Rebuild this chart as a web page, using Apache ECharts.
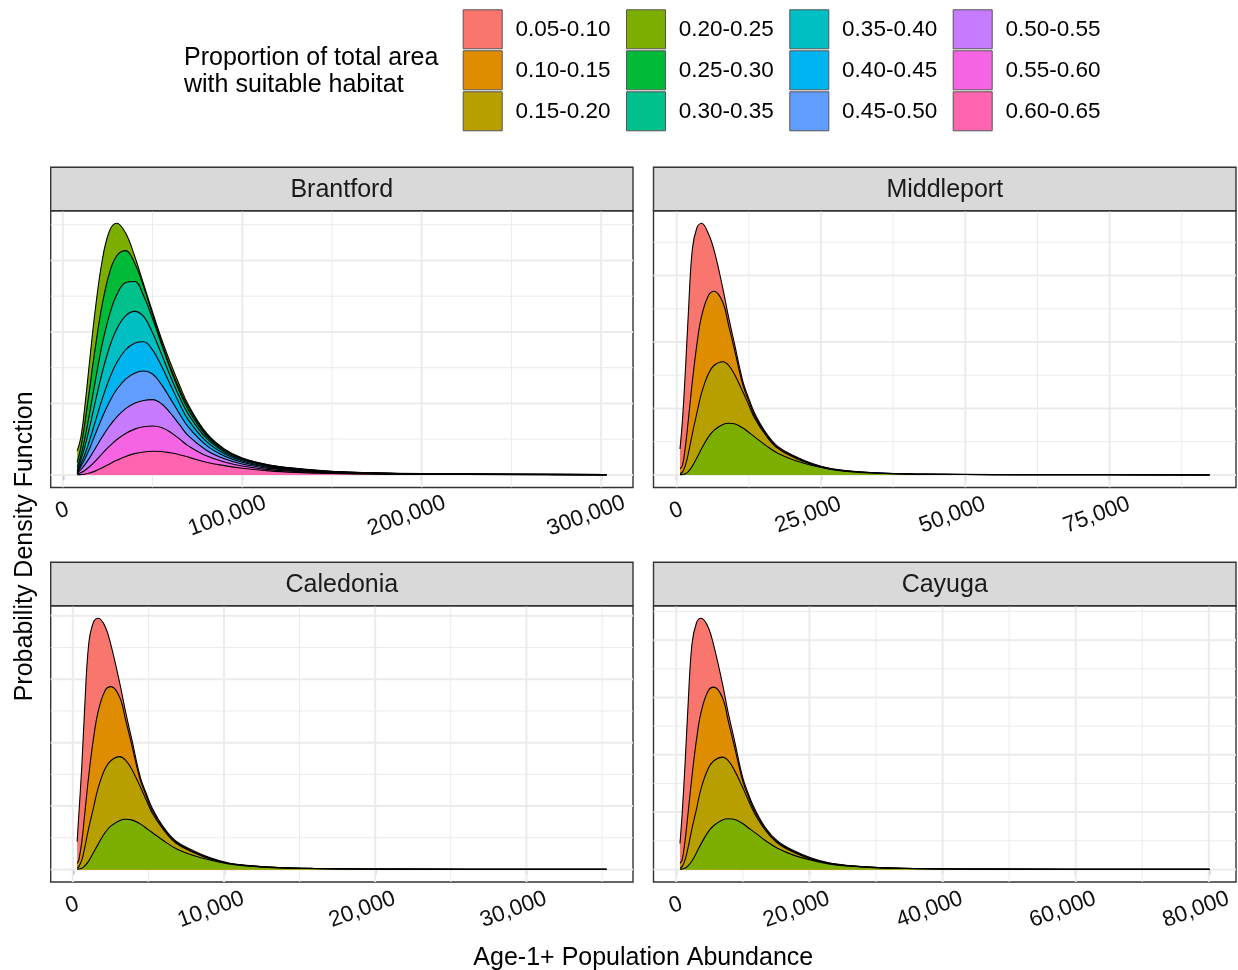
<!DOCTYPE html>
<html>
<head>
<meta charset="utf-8">
<title>Age-1+ population abundance by proportion of suitable habitat</title>
<script src="https://cdn.jsdelivr.net/npm/echarts@6.0.0/dist/echarts.min.js"></script>
<style>
  html, body { margin: 0; padding: 0; background: #ffffff; }
  #chart { width: 1238px; height: 970px; }
</style>
</head>
<body>
<div id="chart"></div>
<script>
// ---- Habitat classes and their fill colours ----
const groupLabels = ['0.05-0.10', '0.10-0.15', '0.15-0.20', '0.20-0.25', '0.25-0.30', '0.30-0.35',
                     '0.35-0.40', '0.40-0.45', '0.45-0.50', '0.50-0.55', '0.55-0.60', '0.60-0.65'];
const groupColors = ['#F8766D', '#DE8C00', '#B79F00', '#7CAE00', '#00BA38', '#00C08B',
                     '#00BFC4', '#00B4F0', '#619CFF', '#C77CFF', '#F564E3', '#FF64B0'];

// ---- Brantford: stacked density (upper edge of each class band), relative units ----
const brantfordX = [8000, 10000, 12000, 15000, 18000, 22000, 26000, 30000, 35000, 40000, 45000, 50000, 55000,
                    60000, 65000, 70000, 80000, 90000, 100000, 115000, 130000, 150000, 175000, 200000, 250000, 303000];
const brantford_20_25 = [24, 37, 64, 115, 164, 215, 244, 251.7, 242, 219, 191, 163, 136, 112, 90, 70, 42, 26, 17, 10, 6.5, 3.5, 2, 1.3, 0.7, 0.3];
const brantford_25_30 = [12.5, 27, 48.5, 87, 126, 171, 202, 219, 224.3, 212, 188.5, 160.6, 132.7, 107.5, 86, 67.9, 40.8, 25.3, 16.6, 9.76, 6.3, 3.4, 1.95, 1.27, 0.68, 0.29];
const brantford_30_35 = [7.5, 18.8, 34, 62.4, 93, 131, 160, 180, 192.4, 193.5, 179.3, 156.4, 130.6, 105.6, 83.4, 64.75, 39.1, 24.3, 16, 9.4, 6.1, 3.3, 1.9, 1.22, 0.66, 0.28];
const brantford_35_40 = [4, 14.7, 26.4, 48.2, 72.4, 102.7, 127.7, 145.8, 159.1, 163.6, 158.5, 142.2, 120.8, 98.5, 78.1, 60.6, 36.7, 23, 15.1, 8.9, 5.8, 3.1, 1.8, 1.16, 0.63, 0.26];
const brantford_40_45 = [2.5, 10.6, 18.9, 34.9, 52.8, 76.2, 96.4, 112.2, 125.2, 131.8, 133.2, 125, 108.9, 90, 71.3, 54.8, 33.5, 21.2, 14, 8.3, 5.3, 2.9, 1.65, 1.07, 0.58, 0.24];
const brantford_45_50 = [1.5, 8.4, 14.8, 26.7, 40.2, 57.7, 73.1, 85.4, 95.9, 101.8, 103.9, 100.9, 90.3, 76.1, 61.3, 47.7, 29.5, 18.9, 12.6, 7.45, 4.8, 2.6, 1.5, 0.96, 0.53, 0.22];
const brantford_50_55 = [1, 5.4, 9.5, 17.3, 26.2, 38.1, 48.9, 57.9, 66.3, 71.7, 74.5, 75.3, 71.2, 61.8, 50.3, 39, 24.7, 16.1, 10.9, 6.5, 4.1, 2.3, 1.3, 0.83, 0.46, 0.18];
const brantford_55_60 = [0.6, 2.1, 4.1, 8.4, 13.6, 21.3, 28.7, 35.2, 41.5, 45.8, 48.1, 49, 47.5, 42.7, 36, 29.05, 19.1, 13, 9, 5.3, 3.4, 1.9, 1.05, 0.68, 0.39, 0.14];
const brantford_60_65 = [0.1, 0.3, 0.7, 1.9, 3.8, 7.1, 10.9, 14.6, 18.5, 21.3, 23, 23.7, 23.4, 22.1, 20.2, 17.8, 12.7, 9.3, 6.7, 4, 2.5, 1.4, 0.8, 0.5, 0.3, 0.1];

// ---- Middleport ----
const middleportX = [570, 1000, 1500, 2000, 2700, 3500, 4300, 5500, 6500, 8000, 9000, 10000, 11500, 12500,
                     13500, 15500, 17500, 20500, 23500, 26500, 29500, 35000, 41000, 50000, 60000, 75000, 92300];
const middleport_05_10 = [26, 55, 104, 160, 226, 248, 252.5, 242, 225, 187, 158, 132, 93, 76.5, 62, 42, 28.7, 18.8, 11.4, 6.6, 4.2, 2, 1, 0.5, 0.3, 0.15, 0.05];
const middleport_10_15 = [6, 9.5, 28, 54, 93, 131, 159, 180, 184.3, 173, 150, 126, 89.5, 74, 59.5, 40.8, 27.6, 17.9, 10.8, 6.3, 4, 1.9, 0.95, 0.45, 0.27, 0.13, 0.04];
const middleport_15_20 = [1.5, 2.8, 9.5, 21, 41, 62, 82, 101.5, 110, 113.5, 110, 101, 83, 70, 57, 39.3, 26.6, 17, 10.2, 6, 3.8, 1.8, 0.9, 0.42, 0.25, 0.12, 0.03];
const middleport_20_25 = [0.3, 0.5, 1.2, 3.4, 8.6, 17.2, 26.2, 38.2, 45, 50.7, 51.9, 51.3, 47, 42.6, 38.2, 29.4, 21.7, 14.4, 9.4, 5.7, 3.6, 1.6, 0.8, 0.38, 0.22, 0.1, 0.02];

// ---- Caledonia ----
const caledoniaX = [290, 400, 600, 780, 1050, 1360, 1680, 2140, 2530, 3110, 3500, 3890, 4470, 4860,
                    5250, 6030, 6810, 7980, 9140, 10300, 11500, 13600, 16000, 19500, 23400, 29200, 35300];
const caledonia_05_10 = [27.8, 55, 104, 160, 225, 247, 251.2, 243, 224, 186, 157, 131, 92, 76, 61.5, 41.7, 28.5, 18.6, 11.3, 6.5, 4.1, 2, 1, 0.5, 0.3, 0.15, 0.05];
const caledonia_10_15 = [6, 9.5, 28, 54, 93, 130, 158, 179, 182.8, 172, 149, 125, 89, 73.5, 59, 40.5, 27.4, 17.8, 10.7, 6.2, 4, 1.9, 0.95, 0.45, 0.27, 0.13, 0.04];
const caledonia_15_20 = [1.5, 2.8, 9.5, 21, 41, 61, 81.5, 101, 109, 112.8, 109, 100.5, 82.5, 69.5, 56.5, 39, 26.4, 16.9, 10.1, 6, 3.8, 1.8, 0.9, 0.42, 0.25, 0.12, 0.03];
const caledonia_20_25 = [0.3, 0.5, 1.2, 3.3, 8.3, 16.6, 25.3, 37, 43.5, 49, 50.2, 49.6, 45.5, 41.2, 37, 28.5, 21, 14, 9.2, 5.5, 3.5, 1.55, 0.78, 0.37, 0.21, 0.1, 0.02];

// ---- Cayuga ----
const cayugaX = [550, 870, 1300, 1730, 2340, 3030, 3720, 4760, 5630, 6930, 7790, 8660, 9960, 10800,
                 11700, 13400, 15200, 17700, 20300, 22900, 25500, 30300, 35500, 43300, 52000, 64900, 80100];
const cayuga_05_10 = [26, 55, 104, 160, 225, 247, 251.5, 243, 224, 186, 157, 131.5, 92.5, 76, 61.7, 41.8, 28.6, 18.7, 11.4, 6.6, 4.2, 2, 1, 0.5, 0.3, 0.15, 0.05];
const cayuga_10_15 = [6, 9.5, 28, 54, 92.5, 130, 157.5, 178.5, 182.5, 172, 149, 125, 89, 73.5, 59.2, 40.6, 27.5, 17.8, 10.8, 6.3, 4, 1.9, 0.95, 0.45, 0.27, 0.13, 0.04];
const cayuga_15_20 = [1.5, 2.8, 9.4, 20.8, 40.5, 60.5, 81, 100.5, 108.8, 112.5, 109, 100.2, 82.3, 69.5, 56.7, 39, 26.5, 16.9, 10.2, 6, 3.8, 1.8, 0.9, 0.42, 0.25, 0.12, 0.03];
const cayuga_20_25 = [0.3, 0.5, 1.2, 3.3, 8.4, 16.8, 25.6, 37.4, 44, 49.6, 50.8, 50.2, 46, 41.7, 37.4, 28.8, 21.2, 14.1, 9.3, 5.6, 3.5, 1.6, 0.8, 0.37, 0.22, 0.1, 0.02];

// ---- Axis breaks ----
const brantfordTicks = [0, 100000, 200000, 300000];
const brantfordMinor = [50000, 150000, 250000];
const middleportTicks = [0, 25000, 50000, 75000];
const middleportMinor = [12500, 37500, 62500, 87500];
const caledoniaTicks = [0, 10000, 20000, 30000];
const caledoniaMinor = [5000, 15000, 25000, 35000];
const cayugaTicks = [0, 20000, 40000, 60000, 80000];
const cayugaMinor = [10000, 30000, 50000, 70000];
// spacing of horizontal grid lines (minor step) in each panel's density units
const brantfordYStep = 35.75;
const middleportYStep = 33.35;
const caledoniaYStep = 31.7;
const cayugaYStep = 28.7;

const FONT = "'Liberation Sans', Arial, Helvetica, sans-serif";
const STRIP_H = 43.4;

// Panel layout: [left, top, width, height] of each plotting area
const panels = [
  { title: 'Brantford', x: brantfordX, ticks: brantfordTicks, minor: brantfordMinor, yStep: brantfordYStep,
    box: [50.7, 210.7, 582.3, 276.8],
    curves: [['0.20-0.25', brantford_20_25], ['0.25-0.30', brantford_25_30], ['0.30-0.35', brantford_30_35],
             ['0.35-0.40', brantford_35_40], ['0.40-0.45', brantford_40_45], ['0.45-0.50', brantford_45_50],
             ['0.50-0.55', brantford_50_55], ['0.55-0.60', brantford_55_60], ['0.60-0.65', brantford_60_65]] },
  { title: 'Middleport', x: middleportX, ticks: middleportTicks, minor: middleportMinor, yStep: middleportYStep,
    box: [653.5, 210.7, 582.5, 276.8],
    curves: [['0.05-0.10', middleport_05_10], ['0.10-0.15', middleport_10_15],
             ['0.15-0.20', middleport_15_20], ['0.20-0.25', middleport_20_25]] },
  { title: 'Caledonia', x: caledoniaX, ticks: caledoniaTicks, minor: caledoniaMinor, yStep: caledoniaYStep,
    box: [50.7, 605.7, 582.3, 276.3],
    curves: [['0.05-0.10', caledonia_05_10], ['0.10-0.15', caledonia_10_15],
             ['0.15-0.20', caledonia_15_20], ['0.20-0.25', caledonia_20_25]] },
  { title: 'Cayuga', x: cayugaX, ticks: cayugaTicks, minor: cayugaMinor, yStep: cayugaYStep,
    box: [653.5, 605.7, 582.5, 276.3],
    curves: [['0.05-0.10', cayuga_05_10], ['0.10-0.15', cayuga_10_15],
             ['0.15-0.20', cayuga_15_20], ['0.20-0.25', cayuga_20_25]] }
];

const colorOf = name => groupColors[groupLabels.indexOf(name)];
const fmtThousands = v => Math.round(v).toLocaleString('en-US');

const grids = [], xAxes = [], yAxes = [], series = [], graphics = [];

panels.forEach((p, i) => {
  const [left, top, width, height] = p.box;
  const x0 = p.x[0], x1 = p.x[p.x.length - 1];
  const xMin = x0 - 0.05 * (x1 - x0), xMax = x1 + 0.05 * (x1 - x0);
  let yTop = 0;
  p.curves.forEach(c => { yTop = Math.max(yTop, Math.max.apply(null, c[1])); });
  const yMin = -0.05 * yTop, yMax = 1.05 * yTop;

  grids.push({ left, top, width, height, show: true, backgroundColor: '#FFFFFF',
               borderColor: '#333333', borderWidth: 1.4, containLabel: false, outerBoundsMode: 'none' });

  xAxes.push({
    gridIndex: i, type: 'value', min: xMin, max: xMax,
    axisLine: { show: false }, splitLine: { show: false }, minorSplitLine: { show: false },
    axisTick: { show: true, customValues: p.ticks, length: 5, lineStyle: { color: '#333333', width: 1.3 } },
    axisLabel: {
      customValues: p.ticks, rotate: 20, align: 'center', verticalAlign: 'middle', margin: 23,
      formatter: v => { const s = fmtThousands(v); return '{t|' + s + '}{s' + s.length + '|\u00a0}'; },
      rich: {
        t: { fontSize: 22.5, fontFamily: FONT, color: '#111111' },
        s1: { width: 1, fontSize: 10 },
        s6: { width: 27.5, fontSize: 10 },
        s7: { width: 32, fontSize: 10 }
      }
    }
  });
  yAxes.push({ gridIndex: i, type: 'value', min: yMin, max: yMax, show: false });

  // background grid lines, drawn through the panel's own scales
  const lines = [];
  p.ticks.forEach(v => lines.push([0, v, 1]));
  p.minor.forEach(v => lines.push([0, v, 0]));
  for (let k = 0; k * p.yStep <= yMax; k++) lines.push([1, k * p.yStep, k % 2 === 0 ? 1 : 0]);
  series.push({
    type: 'custom', xAxisIndex: i, yAxisIndex: i, z: 1, silent: true, clip: true,
    data: lines,
    renderItem: (params, api) => {
      const vertical = api.value(0) === 0, v = api.value(1), major = api.value(2) === 1;
      const a = vertical ? api.coord([v, yMin]) : api.coord([xMin, v]);
      const b = vertical ? api.coord([v, yMax]) : api.coord([xMax, v]);
      return { type: 'line', shape: { x1: a[0], y1: a[1], x2: b[0], y2: b[1] },
               style: { stroke: '#EBEBEB', lineWidth: major ? 2 : 1 } };
    }
  });

  // stacked density bands: tallest edge first so each lower band is painted over it
  p.curves.forEach(([name, vals]) => {
    const col = colorOf(name);
    series.push({
      type: 'line', name, xAxisIndex: i, yAxisIndex: i, z: 3,
      data: p.x.map((xv, j) => [xv, vals[j]]),
      smooth: 0.4, showSymbol: false, symbol: 'none', silent: true,
      itemStyle: { color: col },
      lineStyle: { color: '#000000', width: 1.1 },
      areaStyle: { color: col, opacity: 1 }
    });
  });

  // facet strip
  graphics.push({ type: 'rect', z: 10, shape: { x: left, y: top - STRIP_H, width: width, height: STRIP_H },
                  style: { fill: '#D9D9D9', stroke: '#333333', lineWidth: 1.4 } });
  graphics.push({ type: 'text', z: 11, x: left + width / 2, y: top - STRIP_H / 2 + 1.5,
                  style: { text: p.title, fontSize: 25, fontFamily: FONT, fill: '#1A1A1A',
                           align: 'center', verticalAlign: 'middle', textAlign: 'center', textVerticalAlign: 'middle' } });
});

// axis titles
graphics.push({ type: 'text', z: 11, x: 643.3, y: 958,
                style: { text: 'Age-1+ Population Abundance', fontSize: 25, fontFamily: FONT, fill: '#000000',
                         align: 'center', verticalAlign: 'middle', textAlign: 'center', textVerticalAlign: 'middle' } });
graphics.push({ type: 'text', z: 11, x: 25.5, y: 546.4, rotation: Math.PI / 2,
                style: { text: 'Probability Density Function', fontSize: 25, fontFamily: FONT, fill: '#000000',
                         align: 'center', verticalAlign: 'middle', textAlign: 'center', textVerticalAlign: 'middle' } });

// legend: four columns of three keys
const legendColumns = [462.7, 626, 789.3, 952.7];
const legends = legendColumns.map((lx, c) => ({
  orient: 'vertical', left: lx, top: 9.3, padding: 0, itemGap: 1,
  itemWidth: 39, itemHeight: 39, icon: 'rect', selectedMode: false,
  textStyle: { fontSize: 22.5, fontFamily: FONT, color: '#000000', padding: [2, 0, 0, 8.3] },
  data: groupLabels.slice(c * 3, c * 3 + 3).map(name => ({
    name, icon: 'rect',
    itemStyle: { color: colorOf(name), borderColor: '#555555', borderWidth: 1 }
  }))
}));

const option = {
  animation: false,
  backgroundColor: '#FFFFFF',
  title: {
    text: 'Proportion of total area\nwith suitable habitat',
    left: 184, top: 44.5, padding: 0,
    textStyle: { fontSize: 25, fontWeight: 'normal', fontFamily: FONT, color: '#000000', lineHeight: 27 }
  },
  legend: legends,
  grid: grids,
  xAxis: xAxes,
  yAxis: yAxes,
  series: series,
  graphic: { elements: graphics }
};

const chart = echarts.init(document.getElementById('chart'), null, { renderer: 'canvas' });
chart.setOption(option);
</script>
</body>
</html>
